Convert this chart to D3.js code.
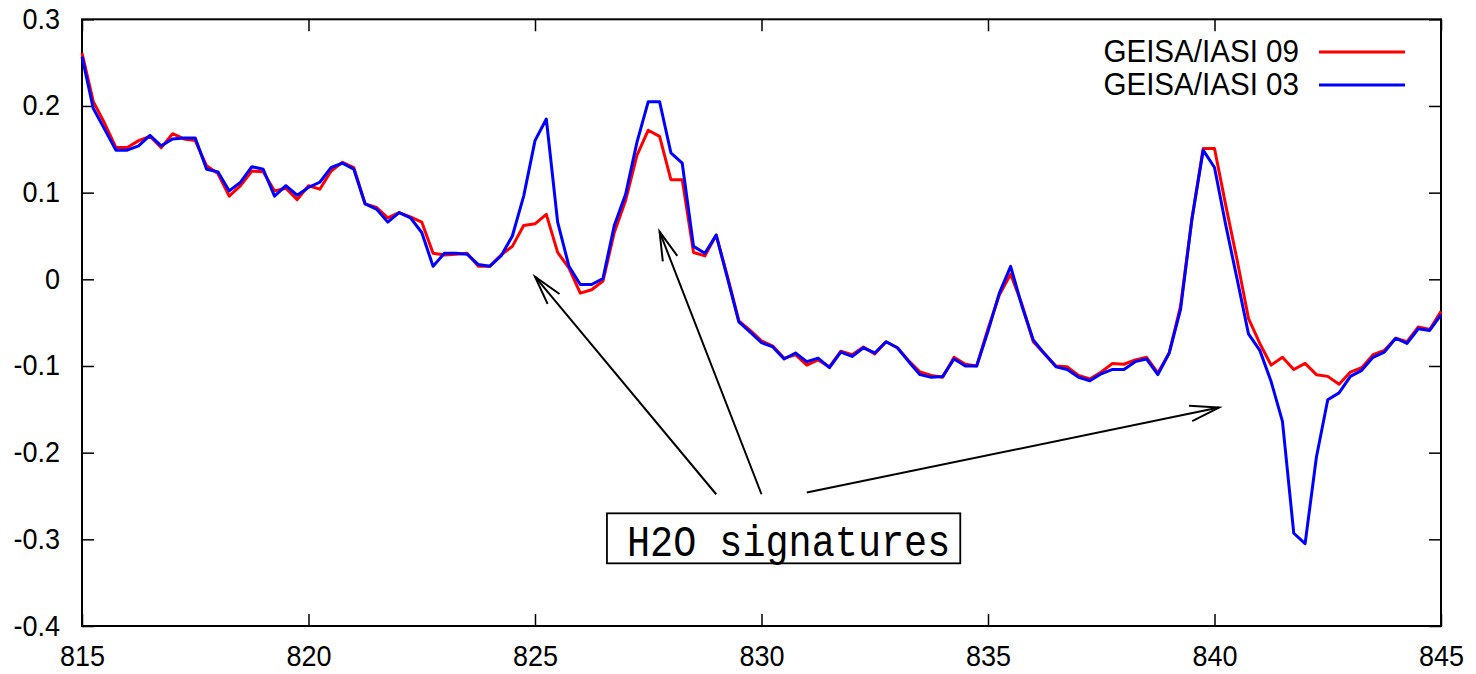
<!DOCTYPE html>
<html>
<head>
<meta charset="utf-8">
<script src="https://cdn.jsdelivr.net/npm/d3@7"></script>
<style>
  body { margin: 0; background: #fff; }
  svg { display: block; }
  .tick line { stroke: #000; stroke-width: 1.5; }
  .lbl { font-family: "Liberation Sans", Arial, sans-serif; fill: #000; }
</style>
</head>
<body>
<div id="container"></div>
<script>
const width = 1476;
const height = 674;

// wavenumber grid (cm-1), 0.25 sampling
const wavenumber = [
  815.00, 815.25, 815.50, 815.75, 816.00, 816.25, 816.50, 816.75, 817.00, 817.25, 817.50, 817.75,
  818.00, 818.25, 818.50, 818.75, 819.00, 819.25, 819.50, 819.75, 820.00, 820.25, 820.50, 820.75,
  821.00, 821.25, 821.50, 821.75, 822.00, 822.25, 822.50, 822.75, 823.00, 823.25, 823.50, 823.75,
  824.00, 824.25, 824.50, 824.75, 825.00, 825.25, 825.50, 825.75, 826.00, 826.25, 826.50, 826.75,
  827.00, 827.25, 827.50, 827.75, 828.00, 828.25, 828.50, 828.75, 829.00, 829.25, 829.50, 829.75,
  830.00, 830.25, 830.50, 830.75, 831.00, 831.25, 831.50, 831.75, 832.00, 832.25, 832.50, 832.75,
  833.00, 833.25, 833.50, 833.75, 834.00, 834.25, 834.50, 834.75, 835.00, 835.25, 835.50, 835.75,
  836.00, 836.25, 836.50, 836.75, 837.00, 837.25, 837.50, 837.75, 838.00, 838.25, 838.50, 838.75,
  839.00, 839.25, 839.50, 839.75, 840.00, 840.25, 840.50, 840.75, 841.00, 841.25, 841.50, 841.75,
  842.00, 842.25, 842.50, 842.75, 843.00, 843.25, 843.50, 843.75, 844.00, 844.25, 844.50, 844.75,
  845.00
];

// GEISA/IASI 09 (red)
const geisa09 = [
  0.261, 0.205, 0.180, 0.152, 0.152, 0.160, 0.165, 0.152, 0.168, 0.162, 0.160, 0.131,
  0.122, 0.096, 0.108, 0.125, 0.124, 0.102, 0.105, 0.092, 0.108, 0.104, 0.125, 0.135,
  0.129, 0.087, 0.083, 0.071, 0.077, 0.072, 0.066, 0.030, 0.028, 0.029, 0.030, 0.015,
  0.015, 0.028, 0.038, 0.062, 0.064, 0.075, 0.031, 0.013, -0.016, -0.012, -0.002, 0.054,
  0.091, 0.143, 0.172, 0.165, 0.115, 0.115, 0.031, 0.027, 0.051, 0.003, -0.048, -0.059,
  -0.071, -0.077, -0.091, -0.087, -0.099, -0.093, -0.101, -0.083, -0.087, -0.078, -0.086, -0.072,
  -0.079, -0.094, -0.107, -0.111, -0.113, -0.090, -0.098, -0.100, -0.057, -0.018, 0.006, -0.029,
  -0.072, -0.086, -0.100, -0.101, -0.111, -0.115, -0.107, -0.097, -0.098, -0.093, -0.090, -0.108,
  -0.085, -0.031, 0.069, 0.151, 0.151, 0.085, 0.022, -0.045, -0.074, -0.099, -0.090, -0.104,
  -0.097, -0.110, -0.112, -0.121, -0.107, -0.102, -0.087, -0.082, -0.068, -0.072, -0.055, -0.058,
  -0.037
];

// GEISA/IASI 03 (blue)
const geisa03 = [
  0.257, 0.197, 0.173, 0.149, 0.149, 0.154, 0.166, 0.154, 0.162, 0.163, 0.163, 0.127,
  0.124, 0.102, 0.112, 0.130, 0.127, 0.096, 0.108, 0.097, 0.106, 0.112, 0.129, 0.134,
  0.127, 0.087, 0.081, 0.066, 0.077, 0.071, 0.054, 0.015, 0.030, 0.030, 0.029, 0.017,
  0.015, 0.027, 0.050, 0.096, 0.160, 0.185, 0.066, 0.015, -0.006, -0.006, 0.001, 0.062,
  0.098, 0.158, 0.205, 0.205, 0.146, 0.134, 0.038, 0.030, 0.051, 0.001, -0.049, -0.061,
  -0.073, -0.078, -0.092, -0.085, -0.095, -0.091, -0.102, -0.084, -0.089, -0.079, -0.085, -0.072,
  -0.079, -0.095, -0.110, -0.113, -0.112, -0.092, -0.100, -0.100, -0.060, -0.016, 0.015, -0.031,
  -0.070, -0.086, -0.101, -0.104, -0.113, -0.117, -0.109, -0.104, -0.104, -0.095, -0.092, -0.110,
  -0.085, -0.035, 0.069, 0.149, 0.129, 0.062, 0.000, -0.063, -0.082, -0.118, -0.164, -0.293,
  -0.305, -0.205, -0.139, -0.131, -0.112, -0.105, -0.090, -0.084, -0.068, -0.074, -0.057, -0.059,
  -0.041
];

const seriesNames = ["GEISA/IASI 09", "GEISA/IASI 03"];
const seriesColors = ["#ff0000", "#0000ff"];

const xTicks = [815, 820, 825, 830, 835, 840, 845];
const xTickLabels = ["815", "820", "825", "830", "835", "840", "845"];
const yTicks = [0.3, 0.2, 0.1, 0, -0.1, -0.2, -0.3, -0.4];
const yTickLabels = ["0.3", "0.2", "0.1", "0", "-0.1", "-0.2", "-0.3", "-0.4"];

// annotation: arrows from the label box to the water vapour features
const noteText = "H2O signatures";
const notePos = [827.03, -0.30];
const arrowFrom = [[829.0, -0.248], [830.0, -0.248], [831.0, -0.246]];
const arrowTo = [[825.0, 0.003], [827.75, 0.055], [840.1, -0.148]];

const plot = { left: 82, right: 1441, top: 19.3, bottom: 626 };
const tickLen = 12;
const stretch = 1.1;

const svg = d3.select("#container").append("svg")
  .attr("width", width)
  .attr("height", height);

//----------------------------SCALES----------------------------//
const xScale = d3.scaleLinear().domain([815, 845]).range([plot.left, plot.right]);
const yScale = d3.scaleLinear().domain([-0.4, 0.3]).range([plot.bottom, plot.top]);

//-----------------------------AXES-----------------------------//
const xLabel = d => xTickLabels[xTicks.indexOf(d)];
const yLabel = d => yTickLabels[yTicks.indexOf(d)];

const gx = svg.append("g")
  .attr("transform", "translate(0," + plot.bottom + ")")
  .call(d3.axisBottom(xScale).tickValues(xTicks).tickSize(-tickLen).tickFormat(xLabel));
gx.selectAll("text")
  .attr("class", "lbl")
  .attr("y", null).attr("dy", null)
  .attr("font-size", 27)
  .attr("text-anchor", "middle")
  .attr("transform", "translate(0,40) scale(1," + stretch + ")");

svg.append("g")
  .attr("transform", "translate(0," + plot.top + ")")
  .call(d3.axisTop(xScale).tickValues(xTicks).tickSize(-tickLen).tickFormat(""));

const gy = svg.append("g")
  .attr("transform", "translate(" + plot.left + ",0)")
  .call(d3.axisLeft(yScale).tickValues(yTicks).tickSize(-tickLen).tickFormat(yLabel));
gy.selectAll("text")
  .attr("class", "lbl")
  .attr("x", null).attr("dy", null)
  .attr("font-size", 27)
  .attr("text-anchor", "end")
  .attr("transform", "translate(-22,9) scale(1," + stretch + ")");

svg.append("g")
  .attr("transform", "translate(" + plot.right + ",0)")
  .call(d3.axisRight(yScale).tickValues(yTicks).tickSize(-tickLen).tickFormat(""));

svg.selectAll(".domain").remove();

svg.append("rect")
  .attr("x", plot.left).attr("y", plot.top)
  .attr("width", plot.right - plot.left)
  .attr("height", plot.bottom - plot.top)
  .attr("fill", "none")
  .attr("stroke", "#000")
  .attr("stroke-width", 2);

//----------------------------LINES-----------------------------//
const slices = [geisa09, geisa03].map((vals, i) => ({
  id: seriesNames[i],
  color: seriesColors[i],
  values: wavenumber.map((w, j) => ({ w: w, v: vals[j] }))
}));

const line = d3.line()
  .x(d => xScale(d.w))
  .y(d => yScale(d.v));

svg.selectAll(".serie")
  .data(slices)
  .enter()
  .append("path")
  .attr("class", "serie")
  .attr("d", d => line(d.values))
  .attr("fill", "none")
  .attr("stroke", d => d.color)
  .attr("stroke-width", 3)
  .attr("stroke-linejoin", "round");

//----------------------------LEGEND----------------------------//
const legend = svg.selectAll(".legend")
  .data(slices)
  .enter()
  .append("g")
  .attr("class", "legend")
  .attr("transform", (d, i) => "translate(0," + (52 + i * 33) + ")");

legend.append("text")
  .attr("class", "lbl")
  .attr("font-size", 29)
  .attr("text-anchor", "end")
  .attr("transform", "translate(1299,10) scale(1.02," + stretch + ")")
  .text(d => d.id);

legend.append("line")
  .attr("x1", 1319).attr("x2", 1405)
  .attr("y1", 0).attr("y2", 0)
  .attr("stroke", d => d.color)
  .attr("stroke-width", 3);

//--------------------------ANNOTATION--------------------------//
const headLen = 30;
const headAng = 15 * Math.PI / 180;
arrowFrom.forEach((f, i) => {
  const x1 = xScale(f[0]), y1 = yScale(f[1]);
  const x2 = xScale(arrowTo[i][0]), y2 = yScale(arrowTo[i][1]);
  const a = Math.atan2(y1 - y2, x1 - x2);
  const g = svg.append("g")
    .attr("stroke", "#000")
    .attr("stroke-width", 2)
    .attr("fill", "none");
  g.append("line").attr("x1", x1).attr("y1", y1).attr("x2", x2).attr("y2", y2);
  g.append("path")
    .attr("d", "M" + (x2 + headLen * Math.cos(a + headAng)) + "," + (y2 + headLen * Math.sin(a + headAng))
      + "L" + x2 + "," + y2
      + "L" + (x2 + headLen * Math.cos(a - headAng)) + "," + (y2 + headLen * Math.sin(a - headAng)));
});

const note = svg.append("g")
  .attr("transform", "translate(" + xScale(notePos[0]) + "," + (yScale(notePos[1]) + 17) + ")");
const noteLabel = note.append("text")
  .attr("font-family", "'Liberation Mono', 'DejaVu Sans Mono', monospace")
  .attr("font-size", 38.5)
  .attr("text-anchor", "start")
  .attr("transform", "scale(1,1.15)")
  .text(noteText);
const bb = noteLabel.node().getBBox();
note.insert("rect", "text")
  .attr("x", bb.x - 20)
  .attr("y", -43)
  .attr("width", bb.width + 30)
  .attr("height", 50)
  .attr("fill", "#fff")
  .attr("stroke", "#000")
  .attr("stroke-width", 1.8);
</script>
</body>
</html>
